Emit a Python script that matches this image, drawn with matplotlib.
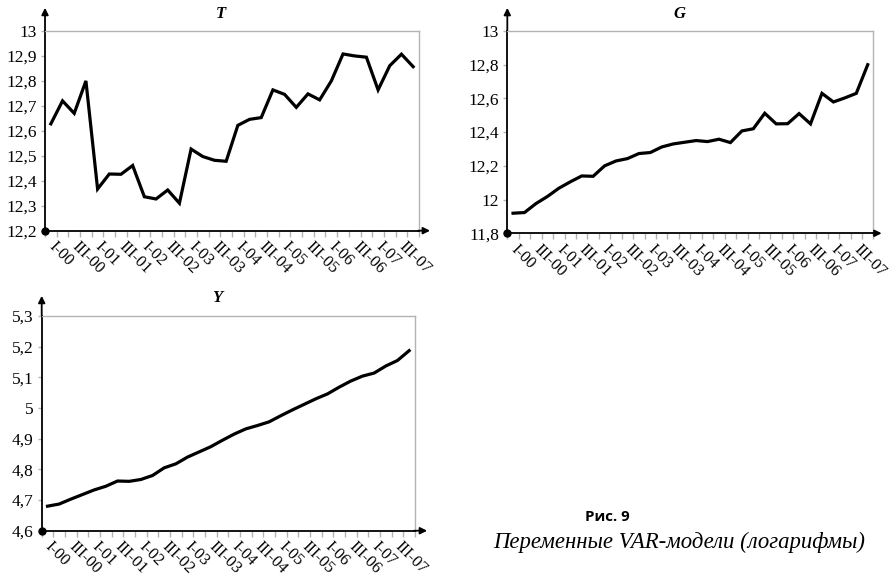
import numpy as np
import matplotlib.pyplot as plt

# Quarterly data I-00 .. IV-07 (logarithms)
T = [12.628, 12.72, 12.67, 12.80, 12.367, 12.427, 12.426, 12.461,
     12.336, 12.327, 12.363, 12.31, 12.527, 12.497, 12.482, 12.478,
     12.622, 12.646, 12.653, 12.764, 12.746, 12.694, 12.748, 12.724,
     12.80, 12.908, 12.90, 12.895, 12.764, 12.861, 12.907, 12.857]
G = [11.919, 11.923, 11.976, 12.018, 12.067, 12.105, 12.14, 12.138,
     12.20, 12.229, 12.243, 12.273, 12.279, 12.312, 12.33, 12.34,
     12.35, 12.344, 12.358, 12.338, 12.407, 12.42, 12.512, 12.449,
     12.45, 12.51, 12.449, 12.63, 12.579, 12.603, 12.63, 12.80]
Y = [4.68, 4.687, 4.703, 4.718, 4.733, 4.745, 4.762, 4.761,
     4.767, 4.78, 4.805, 4.818, 4.84, 4.857, 4.874, 4.895,
     4.915, 4.932, 4.943, 4.955, 4.975, 4.994, 5.012, 5.030,
     5.046, 5.068, 5.088, 5.104, 5.114, 5.137, 5.155, 5.187]
labels = ['I-00', 'III-00', 'I-01', 'III-01', 'I-02', 'III-02', 'I-03', 'III-03',
          'I-04', 'III-04', 'I-05', 'III-05', 'I-06', 'III-06', 'I-07', 'III-07']

T_ticks = [12.2, 12.3, 12.4, 12.5, 12.6, 12.7, 12.8, 12.9, 13.0]
G_ticks = [11.8, 12.0, 12.2, 12.4, 12.6, 12.8, 13.0]
Y_ticks = [4.6, 4.7, 4.8, 4.9, 5.0, 5.1, 5.2, 5.3]

plt.rcParams['font.family'] = ['Liberation Serif', 'DejaVu Serif']
grey = '#b3b3b3'


def fmt(v):
    s = ('%.1f' % v).replace('.', ',')
    if s.endswith(',0'):
        s = s[:-2]
    return s


def panel(ax, data, ticks, title, arrow_y, arrow_x):
    x = np.arange(len(data))
    ax.plot(x, data, color='black', lw=2.3, solid_joinstyle='miter')
    ax.set_xlim(-0.5, len(data) - 0.5)
    ax.set_ylim(ticks[0], ticks[-1])
    ax.set_yticks(ticks)
    ax.set_yticklabels([fmt(t) for t in ticks], fontsize=12.5)
    ax.set_xticks(x[::2])
    ax.set_xticklabels(labels, fontsize=11.8, rotation=-45,
                       ha='left', va='center', rotation_mode='anchor')
    ax.set_xticks(np.arange(len(data) + 1) - 0.5, minor=True)
    ax.tick_params(axis='x', which='major', length=0, pad=10)
    ax.tick_params(axis='x', which='minor', length=4, color=grey, width=1)
    ax.tick_params(axis='y', length=3, color=grey, width=1, pad=3)
    for s in ['top', 'right']:
        ax.spines[s].set_color(grey)
        ax.spines[s].set_linewidth(1)
    for s in ['left', 'bottom']:
        ax.spines[s].set_color('black')
        ax.spines[s].set_linewidth(1.3)
    ax.annotate('', xy=(0, arrow_y), xytext=(0, 0.99), xycoords='axes fraction',
                arrowprops=dict(arrowstyle='-|>', color='black', lw=1.3,
                                mutation_scale=10))
    ax.annotate('', xy=(arrow_x, 0), xytext=(0.99, 0), xycoords='axes fraction',
                arrowprops=dict(arrowstyle='-|>', color='black', lw=1.3,
                                mutation_scale=10))
    ax.plot([0], [0], 'o', color='black', ms=5, transform=ax.transAxes,
            clip_on=False, zorder=5)
    ax.text(0.47, 1.045, title, transform=ax.transAxes, ha='center', va='bottom',
            fontsize=12, fontweight='bold', fontstyle='italic')


fig = plt.figure(figsize=(8.93, 5.78), dpi=100)
ax1 = fig.add_axes([0.0504, 0.6009, 0.4188, 0.3455])
ax2 = fig.add_axes([0.5681, 0.5964, 0.4100, 0.3500])
ax3 = fig.add_axes([0.0467, 0.0818, 0.4180, 0.3715])

panel(ax1, T, T_ticks, 'T', 1.13, 1.037)
panel(ax2, G, G_ticks, 'G', 1.128, 1.03)
panel(ax3, Y, Y_ticks, 'Y', 1.107, 1.04)

fig.text(0.655, 0.106, 'Рис. 9', family='Open Sans', fontweight='bold',
         fontsize=10.8, ha='left', va='center')
fig.text(0.552, 0.062, 'Переменные VAR-модели (логарифмы)',
         fontstyle='italic', fontsize=16.4, ha='left', va='center')

fig.savefig('out.png', dpi=100)
